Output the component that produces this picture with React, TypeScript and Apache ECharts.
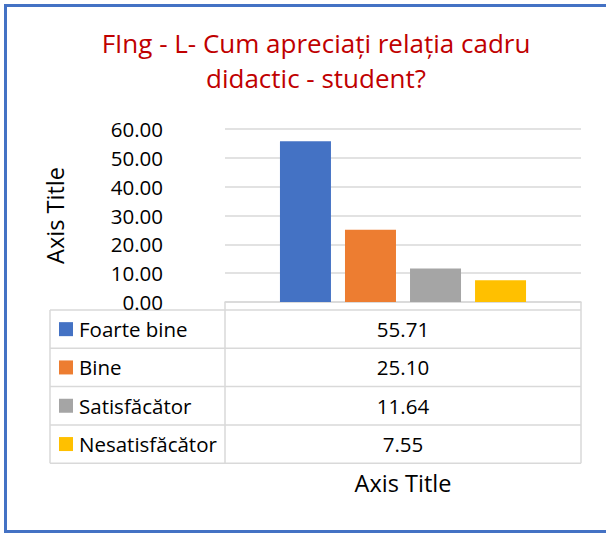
import React, { useEffect, useRef } from "react";
import * as echarts from "echarts";

const titleText = "FIng - L- Cum apreciați relația cadru\ndidactic - student?";
const categories = [""];
const seriesNames = ["Foarte bine", "Bine", "Satisfăcător", "Nesatisfăcător"];
const seriesValues = [55.71, 25.1, 11.64, 7.55];
const seriesColors = ["#4472C4", "#ED7D31", "#A5A5A5", "#FFC000"];
const yMin = 0;
const yMax = 60;
const yInterval = 10;
const yAxisTitle = "Axis Title";
const xAxisTitle = "Axis Title";

const W = 606;
const H = 533;
const FONT = "'Open Sans', sans-serif";
const GRID_LEFT = 225;
const GRID_RIGHT_X = 581;
const GRID_TOP = 129;
const AXIS_Y = 302;
const TABLE_LEFT = 50;
const TABLE_TOP = 310;
const ROW_H = 38.3;
const LINE = "#D9D9D9";

export default function App() {
  const ref = useRef<HTMLDivElement>(null);
  useEffect(() => {
    document.body.style.margin = "0";
    const chart = echarts.init(ref.current!, undefined, { renderer: "svg" });

    const graphics: any[] = [];
    const tableBottom = TABLE_TOP + ROW_H * seriesNames.length;
    for (let i = 0; i <= seriesNames.length; i++) {
      const y = TABLE_TOP + ROW_H * i;
      graphics.push({
        type: "line",
        shape: { x1: TABLE_LEFT, y1: y, x2: GRID_RIGHT_X, y2: y },
        style: { stroke: LINE, lineWidth: 1.5 },
        silent: true,
      });
    }
    graphics.push({
      type: "line",
      shape: { x1: TABLE_LEFT, y1: TABLE_TOP, x2: TABLE_LEFT, y2: tableBottom },
      style: { stroke: LINE, lineWidth: 1.5 },
    });
    graphics.push({
      type: "line",
      shape: { x1: GRID_LEFT, y1: AXIS_Y, x2: GRID_LEFT, y2: tableBottom },
      style: { stroke: LINE, lineWidth: 1.5 },
    });
    graphics.push({
      type: "line",
      shape: { x1: GRID_RIGHT_X, y1: AXIS_Y, x2: GRID_RIGHT_X, y2: tableBottom },
      style: { stroke: LINE, lineWidth: 1.5 },
    });
    seriesNames.forEach((name, i) => {
      const cy = TABLE_TOP + ROW_H * i + ROW_H / 2;
      graphics.push({
        type: "rect",
        shape: { x: 59, y: cy - 7, width: 14, height: 14 },
        style: { fill: seriesColors[i] },
      });
      graphics.push({
        type: "text",
        style: {
          text: name,
          x: 79,
          y: cy,
          textAlign: "left",
          textVerticalAlign: "middle",
          fontSize: 20.5,
          fontFamily: FONT,
          fill: "#000",
        },
      });
      graphics.push({
        type: "text",
        style: {
          text: seriesValues[i].toFixed(2),
          x: (GRID_LEFT + GRID_RIGHT_X) / 2,
          y: cy,
          textAlign: "center",
          textVerticalAlign: "middle",
          fontSize: 20.5,
          fontFamily: FONT,
          fill: "#000",
        },
      });
    });
    graphics.push({
      type: "polyline",
      shape: { points: [[700, 5.5], [5.5, 5.5], [5.5, 531.5], [700, 531.5]] },
      style: { fill: "none", stroke: "#4472C4", lineWidth: 3 },
      z: 100,
    });

    chart.setOption({
      animation: false,
      backgroundColor: "#fff",
      title: {
        text: titleText,
        left: 311,
        top: 20,
        textAlign: "center",
        textStyle: {
          color: "#C00000",
          fontSize: 26,
          fontWeight: "normal",
          fontFamily: FONT,
          lineHeight: 35,
        },
      },
      grid: {
        left: GRID_LEFT,
        right: W - GRID_RIGHT_X,
        top: GRID_TOP,
        bottom: H - AXIS_Y,
        containLabel: false,
      },
      xAxis: {
        type: "category",
        data: categories,
        axisTick: { show: false },
        axisLabel: { show: false },
        axisLine: { lineStyle: { color: LINE, width: 1.5 } },
        name: xAxisTitle,
        nameLocation: "middle",
        nameGap: 169,
        nameTextStyle: { fontSize: 23.5, fontFamily: FONT, color: "#000" },
      },
      yAxis: {
        type: "value",
        min: yMin,
        max: yMax,
        interval: yInterval,
        axisLine: { show: false },
        axisTick: { show: false },
        axisLabel: {
          formatter: (v: number) => v.toFixed(2),
          fontSize: 20.5,
          fontFamily: FONT,
          color: "#000",
          margin: 62,
        },
        splitLine: { lineStyle: { color: LINE, width: 1.5 } },
        name: yAxisTitle,
        nameLocation: "middle",
        nameRotate: 90,
        nameGap: 158,
        nameTextStyle: { fontSize: 23.5, fontFamily: FONT, color: "#000" },
      },
      series: seriesNames.map((name, i) => ({
        name,
        type: "bar",
        data: [seriesValues[i]],
        barWidth: 51,
        barGap: "27.5%",
        itemStyle: { color: seriesColors[i] },
      })),
      graphic: graphics,
    });
    return () => chart.dispose();
  }, []);
  return <div ref={ref} style={{ width: W, height: H }} />;
}
